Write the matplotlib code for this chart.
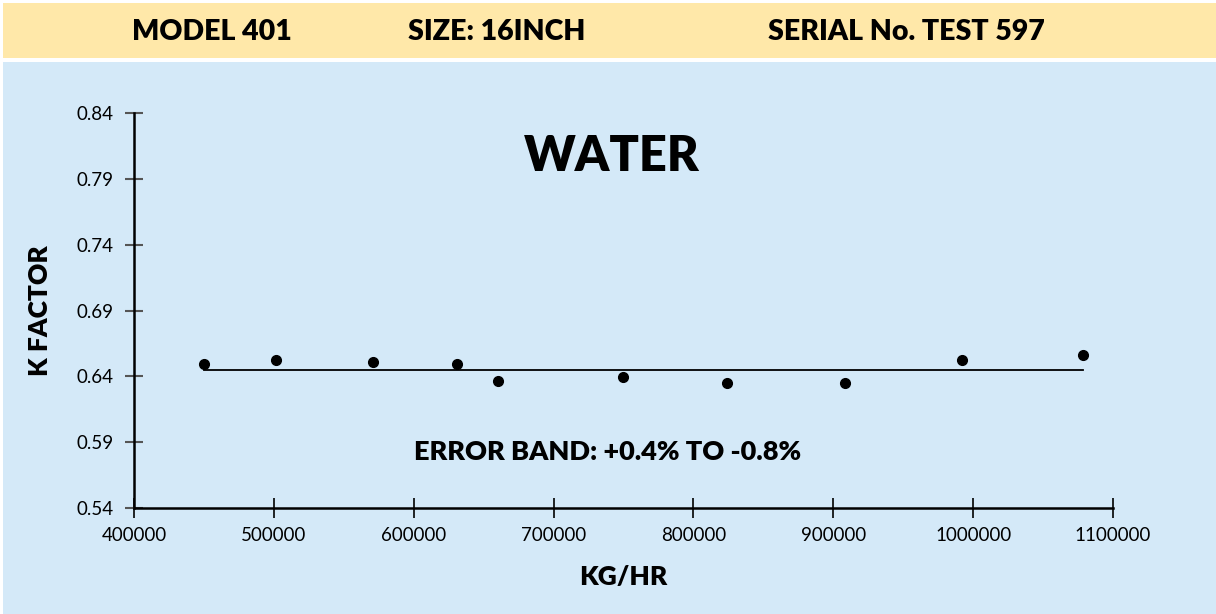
#!/usr/bin/env python3
# K factor calibration chart for water, model 401

import matplotlib
matplotlib.use("Agg")
import matplotlib.pyplot as plt
from matplotlib.patches import Rectangle

# Measured points read from the calibration sheet
flow_kg_hr = [450000, 501500, 570700, 630700, 660000, 749300, 824300, 908600, 992100, 1078600]
k_factor = [0.6494, 0.6522, 0.6509, 0.6492, 0.6363, 0.6392, 0.6349, 0.6351, 0.6522, 0.6562]

# Mean K factor line
mean_k = 0.6448
line_x = [450000, 1078600]

x_ticks = [400000, 500000, 600000, 700000, 800000, 900000, 1000000, 1100000]
y_ticks = [0.54, 0.59, 0.64, 0.69, 0.74, 0.79, 0.84]
header = ["MODEL 401", "SIZE: 16INCH", "SERIAL No. TEST 597"]
header_x = [212, 497, 906]

W, H = 1216, 614
plt.rcParams['font.family'] = ['Lato', 'DejaVu Sans']

fig = plt.figure(figsize=(W / 100, H / 100), dpi=100)
fig.patch.set_facecolor('white')

# Header band and chart background
fig.patches.append(Rectangle((3 / W, 1 - 58 / H), 1, 55 / H, transform=fig.transFigure,
                             facecolor='#FFE8A9', edgecolor='none', zorder=-10))
fig.patches.append(Rectangle((3 / W, 0), 1, 1 - 62 / H, transform=fig.transFigure,
                             facecolor='#D4E9F8', edgecolor='none', zorder=-10))

for label, px in zip(header, header_x):
    fig.text(px / W, 1 - 32 / H, label, ha='center', va='center',
             fontsize=20.5, fontweight='heavy')

ax = fig.add_axes([134 / W, 1 - 508 / H, (1113 - 134) / W, (508 - 113) / H])
ax.set_facecolor('none')
ax.set_zorder(5)

ax.plot(line_x, [mean_k, mean_k], color='black', lw=1.3, zorder=2)
ax.plot(flow_kg_hr, k_factor, 'o', color='black', markersize=7, zorder=3)

ax.set_xlim(400000, 1100000)
ax.set_ylim(0.54, 0.84)
ax.set_xticks(x_ticks)
ax.set_xticklabels([str(v) for v in x_ticks])
ax.set_yticks(y_ticks)
ax.set_yticklabels([f"{v:.2f}" for v in y_ticks])

for side in ['top', 'right']:
    ax.spines[side].set_visible(False)
for side in ['left', 'bottom']:
    ax.spines[side].set_linewidth(1.8)
ax.tick_params(axis='y', direction='inout', length=13, width=1.5, color='#555555',
               labelsize=13.5, pad=8)
ax.tick_params(axis='x', direction='inout', length=14, width=1.2, color='black',
               labelsize=13.5, pad=7)

ax.text(0.488, 0.89, "WATER", transform=ax.transAxes, ha='center', va='center',
        fontsize=35, fontweight='heavy')
ax.text(0.484, 0.142, "ERROR BAND: +0.4% TO -0.8%", transform=ax.transAxes,
        ha='center', va='center', fontsize=19.5, fontweight='heavy')

ax.set_xlabel("KG/HR", fontsize=19, fontweight='heavy', labelpad=15)
ax.set_ylabel("K FACTOR", fontsize=19, fontweight='heavy', labelpad=18)

fig.savefig("out.png", dpi=100)
